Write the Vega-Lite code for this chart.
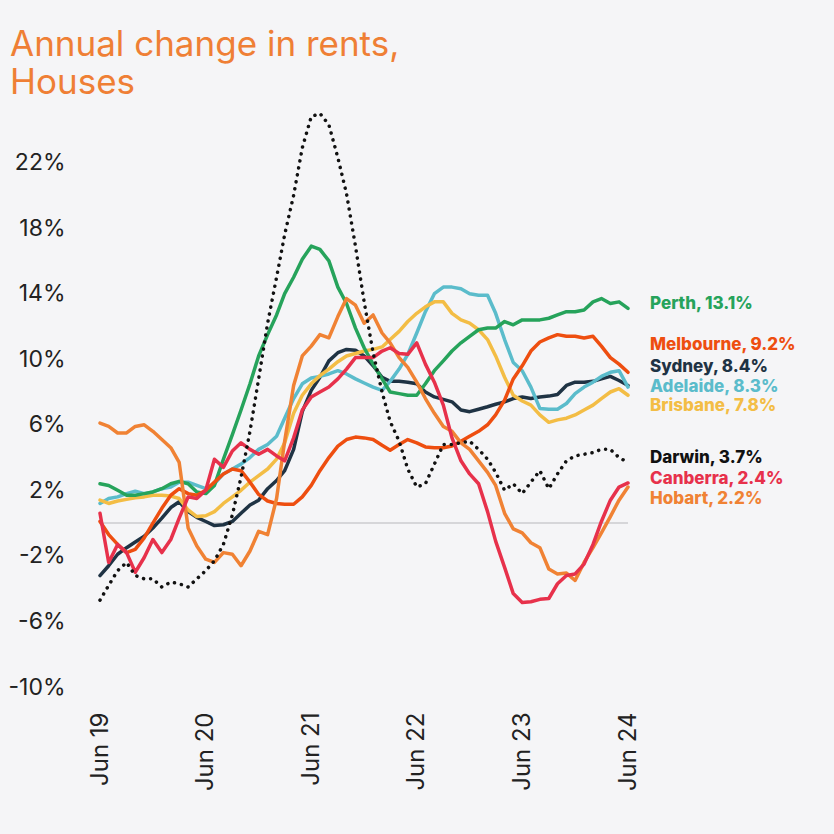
{
  "$schema": "https://vega.github.io/schema/vega-lite/v6.json",
  "width": 528,
  "height": 590,
  "autosize": {"type": "none"},
  "padding": {"left": 100, "top": 97, "right": 206, "bottom": 147},
  "background": "#f5f5f7",
  "config": {"view": {"stroke": null}, "font": "Inter"},
  "title": {
    "text": ["Annual change in rents,", "Houses"],
    "anchor": "start",
    "frame": "group",
    "dx": -90,
    "dy": 37,
    "offset": 5,
    "baseline": "alphabetic",
    "fontSize": 35,
    "fontWeight": "normal",
    "lineHeight": 38,
    "color": "#ef7f35",
    "font": "Inter"
  },
  "datasets": {
    "rents": [
      {"d":"2019-06-01","Perth":2.4,"Melbourne":0.1,"Sydney":-3.2,"Adelaide":1.2,"Brisbane":1.4,"Darwin":-4.7,"Canberra":0.6,"Hobart":6.1},
      {"d":"2019-07-01","Perth":2.3,"Melbourne":-0.7,"Sydney":-2.6,"Adelaide":1.5,"Brisbane":1.2,"Darwin":-3.8,"Canberra":-2.4,"Hobart":5.9},
      {"d":"2019-08-01","Perth":2.0,"Melbourne":-1.3,"Sydney":-1.9,"Adelaide":1.6,"Brisbane":1.35,"Darwin":-2.9,"Canberra":-1.3,"Hobart":5.5},
      {"d":"2019-09-01","Perth":1.7,"Melbourne":-1.8,"Sydney":-1.5,"Adelaide":1.8,"Brisbane":1.45,"Darwin":-2.4,"Canberra":-1.8,"Hobart":5.5},
      {"d":"2019-10-01","Perth":1.7,"Melbourne":-1.6,"Sydney":-1.15,"Adelaide":1.95,"Brisbane":1.55,"Darwin":-3.2,"Canberra":-3.0,"Hobart":5.9},
      {"d":"2019-11-01","Perth":1.8,"Melbourne":-0.9,"Sydney":-0.8,"Adelaide":1.8,"Brisbane":1.6,"Darwin":-3.4,"Canberra":-2.1,"Hobart":6.0},
      {"d":"2019-12-01","Perth":1.9,"Melbourne":0.0,"Sydney":-0.3,"Adelaide":1.9,"Brisbane":1.7,"Darwin":-3.4,"Canberra":-1.0,"Hobart":5.6},
      {"d":"2020-01-01","Perth":2.1,"Melbourne":0.9,"Sydney":0.3,"Adelaide":2.1,"Brisbane":1.7,"Darwin":-3.9,"Canberra":-1.8,"Hobart":5.1},
      {"d":"2020-02-01","Perth":2.4,"Melbourne":1.7,"Sydney":0.95,"Adelaide":2.2,"Brisbane":1.65,"Darwin":-3.6,"Canberra":-1.0,"Hobart":4.6},
      {"d":"2020-03-01","Perth":2.55,"Melbourne":2.1,"Sydney":1.3,"Adelaide":2.5,"Brisbane":1.5,"Darwin":-3.7,"Canberra":0.3,"Hobart":3.7},
      {"d":"2020-04-01","Perth":2.4,"Melbourne":1.8,"Sydney":0.7,"Adelaide":2.5,"Brisbane":0.8,"Darwin":-3.9,"Canberra":1.6,"Hobart":-0.3},
      {"d":"2020-05-01","Perth":1.9,"Melbourne":1.7,"Sydney":0.35,"Adelaide":2.3,"Brisbane":0.4,"Darwin":-3.4,"Canberra":1.5,"Hobart":-1.4},
      {"d":"2020-06-01","Perth":1.8,"Melbourne":2.0,"Sydney":0.1,"Adelaide":2.1,"Brisbane":0.45,"Darwin":-2.9,"Canberra":2.0,"Hobart":-2.2},
      {"d":"2020-07-01","Perth":2.3,"Melbourne":2.5,"Sydney":-0.15,"Adelaide":2.4,"Brisbane":0.7,"Darwin":-2.3,"Canberra":3.9,"Hobart":-2.4},
      {"d":"2020-08-01","Perth":3.9,"Melbourne":3.0,"Sydney":-0.1,"Adelaide":3.0,"Brisbane":1.2,"Darwin":-1.3,"Canberra":3.4,"Hobart":-1.8},
      {"d":"2020-09-01","Perth":5.4,"Melbourne":3.3,"Sydney":0.1,"Adelaide":3.3,"Brisbane":1.6,"Darwin":0.5,"Canberra":4.4,"Hobart":-1.9},
      {"d":"2020-10-01","Perth":6.9,"Melbourne":3.2,"Sydney":0.6,"Adelaide":3.6,"Brisbane":2.0,"Darwin":2.8,"Canberra":4.9,"Hobart":-2.6},
      {"d":"2020-11-01","Perth":8.5,"Melbourne":2.5,"Sydney":1.1,"Adelaide":4.0,"Brisbane":2.5,"Darwin":5.6,"Canberra":4.5,"Hobart":-1.7},
      {"d":"2020-12-01","Perth":10.2,"Melbourne":1.75,"Sydney":1.4,"Adelaide":4.5,"Brisbane":2.9,"Darwin":8.8,"Canberra":4.2,"Hobart":-0.5},
      {"d":"2021-01-01","Perth":11.5,"Melbourne":1.35,"Sydney":2.1,"Adelaide":4.8,"Brisbane":3.3,"Darwin":12.2,"Canberra":4.5,"Hobart":-0.7},
      {"d":"2021-02-01","Perth":12.7,"Melbourne":1.2,"Sydney":2.6,"Adelaide":5.3,"Brisbane":3.9,"Darwin":15.0,"Canberra":4.1,"Hobart":1.5},
      {"d":"2021-03-01","Perth":14.0,"Melbourne":1.15,"Sydney":3.2,"Adelaide":6.4,"Brisbane":4.9,"Darwin":17.6,"Canberra":3.8,"Hobart":5.0},
      {"d":"2021-04-01","Perth":15.0,"Melbourne":1.15,"Sydney":4.5,"Adelaide":7.6,"Brisbane":6.7,"Darwin":20.0,"Canberra":5.2,"Hobart":8.4},
      {"d":"2021-05-01","Perth":16.1,"Melbourne":1.6,"Sydney":6.8,"Adelaide":8.5,"Brisbane":7.8,"Darwin":22.9,"Canberra":6.9,"Hobart":10.2},
      {"d":"2021-06-01","Perth":16.9,"Melbourne":2.3,"Sydney":8.1,"Adelaide":8.85,"Brisbane":8.5,"Darwin":24.8,"Canberra":7.7,"Hobart":10.8},
      {"d":"2021-07-01","Perth":16.7,"Melbourne":3.2,"Sydney":8.9,"Adelaide":8.95,"Brisbane":9.0,"Darwin":25.0,"Canberra":8.0,"Hobart":11.5},
      {"d":"2021-08-01","Perth":16.0,"Melbourne":4.0,"Sydney":9.9,"Adelaide":9.1,"Brisbane":9.4,"Darwin":24.3,"Canberra":8.3,"Hobart":11.3},
      {"d":"2021-09-01","Perth":14.4,"Melbourne":4.7,"Sydney":10.4,"Adelaide":9.3,"Brisbane":9.85,"Darwin":22.3,"Canberra":8.8,"Hobart":12.6},
      {"d":"2021-10-01","Perth":13.4,"Melbourne":5.1,"Sydney":10.6,"Adelaide":9.1,"Brisbane":10.2,"Darwin":20.1,"Canberra":9.4,"Hobart":13.7},
      {"d":"2021-11-01","Perth":11.9,"Melbourne":5.25,"Sydney":10.55,"Adelaide":8.8,"Brisbane":10.35,"Darwin":16.9,"Canberra":10.1,"Hobart":13.3},
      {"d":"2021-12-01","Perth":10.7,"Melbourne":5.2,"Sydney":10.2,"Adelaide":8.55,"Brisbane":10.5,"Darwin":13.5,"Canberra":10.1,"Hobart":12.2},
      {"d":"2022-01-01","Perth":9.7,"Melbourne":5.1,"Sydney":9.6,"Adelaide":8.3,"Brisbane":10.6,"Darwin":10.4,"Canberra":10.1,"Hobart":12.7},
      {"d":"2022-02-01","Perth":8.8,"Melbourne":4.75,"Sydney":8.9,"Adelaide":8.1,"Brisbane":10.75,"Darwin":8.0,"Canberra":10.5,"Hobart":11.6},
      {"d":"2022-03-01","Perth":8.0,"Melbourne":4.45,"Sydney":8.65,"Adelaide":8.65,"Brisbane":11.2,"Darwin":6.2,"Canberra":10.7,"Hobart":11.0},
      {"d":"2022-04-01","Perth":7.9,"Melbourne":4.8,"Sydney":8.65,"Adelaide":9.4,"Brisbane":11.7,"Darwin":5.0,"Canberra":10.35,"Hobart":10.1},
      {"d":"2022-05-01","Perth":7.8,"Melbourne":5.1,"Sydney":8.6,"Adelaide":10.3,"Brisbane":12.3,"Darwin":3.3,"Canberra":10.3,"Hobart":9.5},
      {"d":"2022-06-01","Perth":7.8,"Melbourne":4.9,"Sydney":8.5,"Adelaide":11.6,"Brisbane":12.8,"Darwin":2.2,"Canberra":11.0,"Hobart":8.6},
      {"d":"2022-07-01","Perth":8.5,"Melbourne":4.65,"Sydney":8.0,"Adelaide":12.9,"Brisbane":13.2,"Darwin":2.4,"Canberra":9.7,"Hobart":7.6},
      {"d":"2022-08-01","Perth":9.3,"Melbourne":4.6,"Sydney":7.7,"Adelaide":14.0,"Brisbane":13.5,"Darwin":3.6,"Canberra":8.6,"Hobart":6.7},
      {"d":"2022-09-01","Perth":9.9,"Melbourne":4.6,"Sydney":7.55,"Adelaide":14.4,"Brisbane":13.5,"Darwin":4.8,"Canberra":7.2,"Hobart":5.9},
      {"d":"2022-10-01","Perth":10.5,"Melbourne":4.7,"Sydney":7.4,"Adelaide":14.4,"Brisbane":12.8,"Darwin":4.8,"Canberra":5.2,"Hobart":5.6},
      {"d":"2022-11-01","Perth":11.0,"Melbourne":5.0,"Sydney":6.9,"Adelaide":14.3,"Brisbane":12.4,"Darwin":4.9,"Canberra":3.8,"Hobart":4.9},
      {"d":"2022-12-01","Perth":11.4,"Melbourne":5.3,"Sydney":6.8,"Adelaide":14.0,"Brisbane":12.2,"Darwin":5.0,"Canberra":3.0,"Hobart":4.5},
      {"d":"2023-01-01","Perth":11.8,"Melbourne":5.6,"Sydney":6.95,"Adelaide":13.9,"Brisbane":11.8,"Darwin":4.5,"Canberra":2.4,"Hobart":3.8},
      {"d":"2023-02-01","Perth":11.9,"Melbourne":6.0,"Sydney":7.1,"Adelaide":13.9,"Brisbane":11.2,"Darwin":3.9,"Canberra":0.7,"Hobart":3.1},
      {"d":"2023-03-01","Perth":11.9,"Melbourne":6.6,"Sydney":7.25,"Adelaide":12.8,"Brisbane":10.2,"Darwin":3.1,"Canberra":-1.1,"Hobart":2.3},
      {"d":"2023-04-01","Perth":12.3,"Melbourne":7.5,"Sydney":7.4,"Adelaide":11.2,"Brisbane":8.9,"Darwin":2.0,"Canberra":-2.7,"Hobart":0.6},
      {"d":"2023-05-01","Perth":12.1,"Melbourne":8.8,"Sydney":7.6,"Adelaide":9.8,"Brisbane":7.8,"Darwin":2.4,"Canberra":-4.3,"Hobart":-0.35},
      {"d":"2023-06-01","Perth":12.4,"Melbourne":9.6,"Sydney":7.7,"Adelaide":9.3,"Brisbane":7.45,"Darwin":1.8,"Canberra":-4.85,"Hobart":-0.6},
      {"d":"2023-07-01","Perth":12.4,"Melbourne":10.5,"Sydney":7.6,"Adelaide":8.3,"Brisbane":7.2,"Darwin":2.5,"Canberra":-4.8,"Hobart":-1.2},
      {"d":"2023-08-01","Perth":12.4,"Melbourne":11.05,"Sydney":7.7,"Adelaide":7.0,"Brisbane":6.6,"Darwin":3.2,"Canberra":-4.65,"Hobart":-1.5},
      {"d":"2023-09-01","Perth":12.5,"Melbourne":11.3,"Sydney":7.75,"Adelaide":6.95,"Brisbane":6.15,"Darwin":2.1,"Canberra":-4.6,"Hobart":-2.8},
      {"d":"2023-10-01","Perth":12.7,"Melbourne":11.5,"Sydney":7.85,"Adelaide":6.95,"Brisbane":6.3,"Darwin":3.0,"Canberra":-3.7,"Hobart":-3.1},
      {"d":"2023-11-01","Perth":12.9,"Melbourne":11.4,"Sydney":8.4,"Adelaide":7.3,"Brisbane":6.4,"Darwin":3.8,"Canberra":-3.2,"Hobart":-3.05},
      {"d":"2023-12-01","Perth":12.9,"Melbourne":11.4,"Sydney":8.6,"Adelaide":7.9,"Brisbane":6.6,"Darwin":4.1,"Canberra":-3.1,"Hobart":-3.5},
      {"d":"2024-01-01","Perth":13.0,"Melbourne":11.3,"Sydney":8.6,"Adelaide":8.3,"Brisbane":6.9,"Darwin":4.2,"Canberra":-2.5,"Hobart":-2.4},
      {"d":"2024-02-01","Perth":13.5,"Melbourne":11.4,"Sydney":8.65,"Adelaide":8.6,"Brisbane":7.2,"Darwin":4.3,"Canberra":-1.3,"Hobart":-1.5},
      {"d":"2024-03-01","Perth":13.7,"Melbourne":10.8,"Sydney":8.8,"Adelaide":8.95,"Brisbane":7.6,"Darwin":4.5,"Canberra":0.1,"Hobart":-0.6},
      {"d":"2024-04-01","Perth":13.4,"Melbourne":10.1,"Sydney":8.95,"Adelaide":9.2,"Brisbane":8.0,"Darwin":4.5,"Canberra":1.4,"Hobart":0.4},
      {"d":"2024-05-01","Perth":13.5,"Melbourne":9.7,"Sydney":8.7,"Adelaide":9.3,"Brisbane":8.2,"Darwin":4.0,"Canberra":2.2,"Hobart":1.4},
      {"d":"2024-06-01","Perth":13.1,"Melbourne":9.2,"Sydney":8.4,"Adelaide":8.3,"Brisbane":7.8,"Darwin":3.7,"Canberra":2.45,"Hobart":2.2}
    ],
    "labels": [
      {"d":"2024-06-01","city":"Perth","text":"Perth, 13.1%","labelPos":13.4},
      {"d":"2024-06-01","city":"Melbourne","text":"Melbourne, 9.2%","labelPos":10.85},
      {"d":"2024-06-01","city":"Sydney","text":"Sydney, 8.4%","labelPos":9.55},
      {"d":"2024-06-01","city":"Adelaide","text":"Adelaide, 8.3%","labelPos":8.3},
      {"d":"2024-06-01","city":"Brisbane","text":"Brisbane, 7.8%","labelPos":7.15},
      {"d":"2024-06-01","city":"Darwin","text":"Darwin, 3.7%","labelPos":3.95},
      {"d":"2024-06-01","city":"Canberra","text":"Canberra, 2.4%","labelPos":2.7},
      {"d":"2024-06-01","city":"Hobart","text":"Hobart, 2.2%","labelPos":1.5}
    ]
  },
  "encoding": {
    "x": {
      "field": "d",
      "type": "temporal",
      "scale": {
        "type": "utc",
        "domain": [{"year": 2019, "month": 6, "date": 1, "utc": true}, {"year": 2024, "month": 6, "date": 1, "utc": true}]
      },
      "axis": {
        "values": [
          {"year": 2019, "month": 6, "date": 1, "utc": true},
          {"year": 2020, "month": 6, "date": 1, "utc": true},
          {"year": 2021, "month": 6, "date": 1, "utc": true},
          {"year": 2022, "month": 6, "date": 1, "utc": true},
          {"year": 2023, "month": 6, "date": 1, "utc": true},
          {"year": 2024, "month": 6, "date": 1, "utc": true}
        ],
        "format": "%b %y",
        "labelAngle": -90,
        "labelAlign": "right",
        "labelBaseline": "middle",
        "labelPadding": 25,
        "labelFontSize": 24,
        "labelColor": "#222222",
        "labelFont": "Inter",
        "domain": false,
        "ticks": false,
        "grid": false,
        "title": null
      }
    }
  },
  "layer": [
    {
      "data": {"values": [{"z": 0}]},
      "mark": {"type": "rule", "color": "#d6d6d9", "strokeWidth": 2},
      "encoding": {
        "x": null,
        "y": {
          "field": "z",
          "type": "quantitative",
          "scale": {"domain": [-10, 26], "nice": false},
          "axis": {
            "values": [-10, -6, -2, 2, 6, 10, 14, 18, 22],
            "labelExpr": "datum.value + '%'",
            "labelFontSize": 23,
            "labelPadding": 35,
            "labelColor": "#222222",
            "labelFont": "Inter",
            "domain": false,
            "ticks": false,
            "grid": false,
            "title": null
          }
        }
      }
    },
    {
      "data": {"name": "rents"},
      "transform": [{"fold": ["Sydney", "Adelaide", "Brisbane", "Perth", "Melbourne", "Hobart", "Canberra"], "as": ["city", "value"]}],
      "mark": {"type": "line", "strokeWidth": 3.5, "strokeJoin": "round", "strokeCap": "round"},
      "encoding": {
        "y": {"field": "value", "type": "quantitative"},
        "color": {
          "field": "city",
          "type": "nominal",
          "scale": {
            "domain": ["Perth", "Melbourne", "Sydney", "Adelaide", "Brisbane", "Darwin", "Canberra", "Hobart"],
            "range": ["#26a35b", "#ee4e10", "#1f3344", "#5bbccb", "#f3bd45", "#111111", "#e7314b", "#f08234"]
          },
          "legend": null
        }
      }
    },
    {
      "data": {"name": "rents"},
      "mark": {"type": "line", "strokeWidth": 3.5, "strokeDash": [0.1, 7], "strokeCap": "round", "color": "#111111"},
      "encoding": {
        "y": {"field": "Darwin", "type": "quantitative"}
      }
    },
    {
      "data": {"name": "labels"},
      "mark": {"type": "text", "align": "left", "baseline": "middle", "dx": 22, "fontSize": 17, "fontWeight": 800, "font": "Inter"},
      "encoding": {
        "y": {"field": "labelPos", "type": "quantitative"},
        "text": {"field": "text"},
        "color": {"field": "city", "type": "nominal", "legend": null}
      }
    }
  ]
}
